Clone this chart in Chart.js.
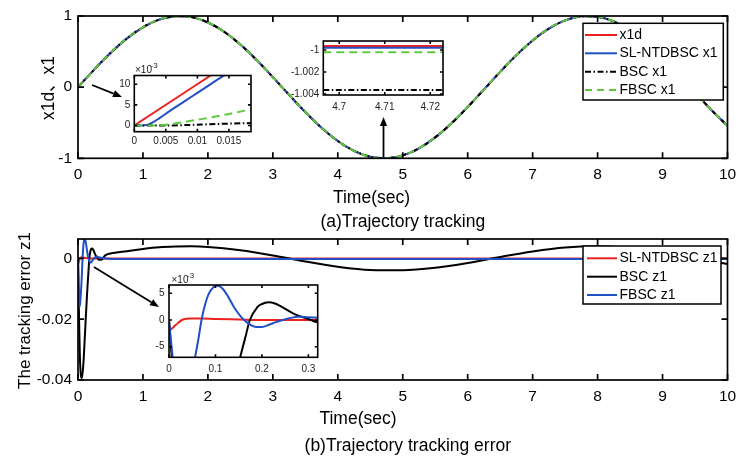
<!DOCTYPE html>
<html>
<head>
<meta charset="utf-8">
<script src="https://cdn.jsdelivr.net/npm/chart.js@4.4.1/dist/chart.umd.min.js"></script>
<style>
  html, body { margin: 0; padding: 0; background: #fff; }
  #wrap { position: relative; width: 738px; height: 456px; background: #fff; overflow: hidden; }
  #wrap canvas { position: absolute; left: 0; top: 0; }
</style>
</head>
<body>
<div id="wrap">
  <canvas id="trackMain" width="738" height="456"></canvas>
  <canvas id="errMain" width="738" height="456"></canvas>
  <canvas id="trackZoomStart" width="738" height="456"></canvas>
  <canvas id="trackZoomMin" width="738" height="456"></canvas>
  <canvas id="errZoom" width="738" height="456"></canvas>
</div>
<script>
const FONT = '"Liberation Sans", Arial, "Noto Sans CJK SC", sans-serif';

// ---- (a) trajectory tracking, full run ----
const trackTime = [0, 0.25, 0.5, 0.75, 1, 1.25, 1.5, 1.75, 2, 2.25, 2.5, 2.75, 3, 3.25, 3.5, 3.75,
  4, 4.25, 4.5, 4.75, 5, 5.25, 5.5, 5.75, 6, 6.25, 6.5, 6.75, 7, 7.25, 7.5, 7.75,
  8, 8.25, 8.5, 8.75, 9, 9.25, 9.5, 9.75, 10];
const x1dTrack = [0, 0.247, 0.479, 0.682, 0.841, 0.949, 0.997, 0.984, 0.909, 0.778, 0.598, 0.382,
  0.141, -0.108, -0.351, -0.572, -0.757, -0.895, -0.978, -0.999, -0.959, -0.859, -0.706, -0.508,
  -0.279, -0.033, 0.215, 0.450, 0.657, 0.823, 0.938, 0.995, 0.989, 0.923, 0.798, 0.624, 0.412,
  0.174, -0.075, -0.319, -0.544];
// the three controllers sit on the reference at this scale
const slTrack = x1dTrack;
const bscTrack = x1dTrack;
const fbscTrack = x1dTrack;

// zoom on the first 0.0185 s
const x1dStartT = [0, 0.0185];
const x1dStart = [0, 0.0185];
const slStartT = [0, 0.001, 0.002, 0.003, 0.004, 0.006, 0.008, 0.010, 0.012, 0.014, 0.0185];
const slStart = [0, 0.00002, 0.00015, 0.0008, 0.0018, 0.0039, 0.0059, 0.0079, 0.0099, 0.0119, 0.0164];
const bscStartT = [0, 0.005, 0.008, 0.012, 0.015, 0.0185];
const bscStart = [0, 0, 0.0001, 0.0003, 0.00045, 0.0006];
const fbscStartT = [0, 0.003, 0.005, 0.007, 0.010, 0.012, 0.015, 0.0185];
const fbscStart = [0, 0, 0.0002, 0.0006, 0.0014, 0.0019, 0.0028, 0.0039];

// zoom around the minimum at t = 4.71 s
const minT = [4.6965, 4.7228];
const x1dMin = [-0.99964, -0.99964];
const slMin = [-0.99979, -0.99979];
const bscMin = [-1.00364, -1.00364];
const fbscMin = [-1.00021, -1.00021];

// ---- (b) tracking error z1 ----
const slErrT = [0, 0.01, 0.02, 0.03, 0.045, 0.07, 0.1, 0.15, 0.2, 10];
const slErr = [-0.0021, -0.0013, -0.0005, 0.0001, 0.0003, 0.0003, 0.0002, 0.0001, 0, 0];
const bscErrT = [0, 0.01, 0.02, 0.03, 0.045, 0.06, 0.08, 0.1, 0.12, 0.14, 0.153, 0.165, 0.174,
  0.19, 0.2, 0.214, 0.228, 0.24, 0.27, 0.3, 0.32, 0.36, 0.42, 0.5, 0.75, 1, 1.25, 1.5, 1.75, 2,
  2.5, 3, 3.5, 4, 4.5, 5, 5.5, 6, 6.5, 7, 7.5, 8, 8.5, 9, 9.5, 10];
const bscErr = [0, -0.012, -0.024, -0.033, -0.0385, -0.0394, -0.0355, -0.028, -0.0195, -0.0115,
  -0.007, -0.003, 0, 0.0024, 0.003, 0.0033, 0.0031, 0.0026, 0.0011, 0.0002, -0.0004, -0.0004,
  0.0010, 0.0016, 0.0024, 0.0031, 0.00365, 0.0039, 0.004, 0.0038, 0.0027, 0.001, -0.001,
  -0.00275, -0.0038, -0.0039, -0.0031, -0.0015, 0.0005, 0.0023, 0.0036, 0.004, 0.0034, 0.002,
  0.0001, -0.0018];
const fbscErrT = [0, 0.005, 0.01, 0.015, 0.02, 0.025, 0.03, 0.04, 0.05, 0.056, 0.063, 0.07, 0.078,
  0.085, 0.095, 0.105, 0.115, 0.125, 0.14, 0.155, 0.167, 0.177, 0.187, 0.2, 0.215, 0.23, 0.245,
  0.262, 0.28, 0.3, 0.32, 0.36, 0.42, 0.6, 10];
const fbscErr = [0, -0.0045, -0.0088, -0.0128, -0.0153, -0.0158, -0.0152, -0.0128, -0.0094, -0.007,
  -0.0037, 0, 0.0030, 0.0048, 0.0061, 0.0064, 0.0059, 0.0047, 0.0024, 0.0006, -0.0004, -0.001,
  -0.0013, -0.0013, -0.0009, -0.0004, 0, 0.0004, 0.0006, 0.0005, 0.0004, 0.0002, 0, -0.0002, -0.0002];

// tick values
const timeTicks = [0, 1, 2, 3, 4, 5, 6, 7, 8, 9, 10];
const trackTicksY = [-1, 0, 1];
const errTicksY = [-0.04, -0.02, 0];
const startTicksX = [0, 0.005, 0.01, 0.015];
const startTicksY = [0, 0.005, 0.01];
const minTicksX = [4.7, 4.71, 4.72];
const minTicksY = [-1.004, -1.002, -1];
const errZoomTicksX = [0, 0.1, 0.2, 0.3];
const errZoomTicksY = [-0.005, 0, 0.005];

const RED = '#ec2220', BLUE = '#2150c4', BLACK = '#000', GREEN = '#5ec93e';
const DASH_DOT = [6, 2.5, 1.5, 2.5], DASHED = [8, 5];
const W = 738, H = 456;

const plain = v => String(+(+v).toFixed(4));
const milli = v => String(Math.round(v * 1000));

function line(label, xs, ys, color, dash, order, smooth) {
  return {
    label, data: xs.map((x, i) => ({ x, y: ys[i] })),
    borderColor: color, borderWidth: 2, borderDash: dash || [],
    pointRadius: 0, fill: false, order,
    cubicInterpolationMode: smooth ? 'default' : 'monotone', tension: smooth ? 0.4 : 0
  };
}

// the scale box fills the whole margin so its labels are not clipped away
function axis(min, max, ticks, fmt, size, pad, color, room) {
  return {
    type: 'linear', min, max,
    grid: { display: false, drawTicks: false },
    border: { display: false },
    ticks: { autoSkip: false, maxRotation: 0, padding: pad, color, font: { family: FONT, size }, callback: fmt },
    afterBuildTicks: s => { s.ticks = ticks.map(v => ({ value: v })); },
    afterFit: s => {
      if (s.isHorizontal()) s.height = room; else s.width = room;
      s.paddingLeft = s.paddingRight = s.paddingTop = s.paddingBottom = 0;
    }
  };
}

// box round the axes with inward ticks on all four sides
function frame(tickLen, lineW, whiteBg) {
  return {
    id: 'frame',
    beforeDatasetsDraw(chart) {
      if (!whiteBg) return;
      const a = chart.chartArea, ctx = chart.ctx;
      ctx.save(); ctx.fillStyle = '#fff';
      ctx.fillRect(a.left, a.top, a.width, a.height); ctx.restore();
    },
    afterDatasetsDraw(chart) {
      const { ctx, chartArea: a, scales } = chart;
      ctx.save();
      ctx.strokeStyle = '#000'; ctx.lineWidth = lineW;
      ctx.beginPath();
      scales.x.ticks.forEach(t => {
        const p = scales.x.getPixelForValue(t.value);
        ctx.moveTo(p, a.bottom); ctx.lineTo(p, a.bottom - tickLen);
        ctx.moveTo(p, a.top); ctx.lineTo(p, a.top + tickLen);
      });
      scales.y.ticks.forEach(t => {
        const p = scales.y.getPixelForValue(t.value);
        ctx.moveTo(a.left, p); ctx.lineTo(a.left + tickLen, p);
        ctx.moveTo(a.right, p); ctx.lineTo(a.right - tickLen, p);
      });
      ctx.stroke();
      ctx.strokeRect(a.left, a.top, a.width, a.height);
      ctx.restore();
    }
  };
}

function boxLegend(box, rows, lineX, textX) {
  return {
    id: 'boxLegend',
    afterDatasetsDraw(chart) {
      const ctx = chart.ctx;
      ctx.save();
      ctx.fillStyle = '#fff';
      ctx.fillRect(box[0], box[1], box[2] - box[0], box[3] - box[1]);
      ctx.strokeStyle = '#000'; ctx.lineWidth = 1.5;
      ctx.strokeRect(box[0], box[1], box[2] - box[0], box[3] - box[1]);
      ctx.font = '14px ' + FONT; ctx.textBaseline = 'middle'; ctx.textAlign = 'left';
      chart.data.datasets.forEach((ds, i) => {
        const y = rows[i];
        ctx.strokeStyle = ds.borderColor; ctx.lineWidth = 2;
        ctx.setLineDash(ds.borderDash || []);
        ctx.beginPath(); ctx.moveTo(lineX[0], y); ctx.lineTo(lineX[1], y); ctx.stroke();
        ctx.setLineDash([]);
        ctx.fillStyle = '#000';
        ctx.fillText(ds.label, textX, y);
      });
      ctx.restore();
    }
  };
}

// captions, axis titles and pointer arrows
function notes(texts, arrows) {
  return {
    id: 'notes',
    afterDraw(chart) {
      const ctx = chart.ctx;
      ctx.save();
      texts.forEach(t => {
        ctx.save();
        ctx.font = t.size + 'px ' + FONT;
        ctx.fillStyle = t.color || '#000';
        ctx.textAlign = t.align || 'center';
        ctx.textBaseline = 'alphabetic';
        ctx.translate(t.x, t.y);
        if (t.rot) ctx.rotate(t.rot);
        ctx.fillText(t.text, 0, 0);
        ctx.restore();
      });
      arrows.forEach(([x1, y1, x2, y2]) => {
        const ang = Math.atan2(y2 - y1, x2 - x1), L = 9, hw = 3.6;
        const bx = x2 - L * Math.cos(ang), by = y2 - L * Math.sin(ang);
        ctx.strokeStyle = '#000'; ctx.fillStyle = '#000'; ctx.lineWidth = 1.8;
        ctx.beginPath(); ctx.moveTo(x1, y1); ctx.lineTo(bx, by); ctx.stroke();
        ctx.beginPath();
        ctx.moveTo(x2, y2);
        ctx.lineTo(bx + hw * Math.sin(ang), by - hw * Math.cos(ang));
        ctx.lineTo(bx - hw * Math.sin(ang), by + hw * Math.cos(ang));
        ctx.closePath(); ctx.fill();
      });
      ctx.restore();
    }
  };
}

// box = [left, top, right, bottom] of the plotting area in page pixels
function axesChart(id, box, datasets, xr, yr, extra) {
  return new Chart(document.getElementById(id), {
    type: 'line',
    data: { datasets },
    options: {
      responsive: false, animation: false, devicePixelRatio: 1,
      layout: { padding: { left: 0, top: box[1], right: W - box[2], bottom: 0 } },
      plugins: { legend: { display: false }, tooltip: { enabled: false } },
      scales: {
        x: axis(...xr, H - box[3]),
        y: axis(...yr, box[0])
      }
    },
    plugins: extra
  });
}

// (a) main axes
axesChart('trackMain', [78, 16, 727.5, 158.3], [
  line('x1d', trackTime, x1dTrack, RED, null, 3, true),
  line('SL-NTDBSC x1', trackTime, slTrack, BLUE, null, 2, true),
  line('BSC x1', trackTime, bscTrack, BLACK, DASH_DOT, 1, true),
  line('FBSC x1', trackTime, fbscTrack, GREEN, [7, 5], 0, true)
],
  [0, 10, timeTicks, plain, 15.5, 7, '#000'],
  [-1, 1, trackTicksY, plain, 15.5, 6, '#000'],
  [frame(6, 1.7, false), boxLegend([583, 23.3, 723.3, 100], [35, 53.3, 71.7, 90], [585, 617], 619.5),
   notes([
     { text: 'Time(sec)', x: 371.5, y: 203.3, size: 17.5 },
     { text: '(a)Trajectory tracking', x: 402.8, y: 226.7, size: 17.5 },
     { text: 'x1d\u3001x1', x: 53.5, y: 88, size: 17.5, rot: -Math.PI / 2 }
   ], [[92, 85, 122, 97], [383.5, 157, 383.5, 117]])]);

// (b) main axes
axesChart('errMain', [78, 239, 727.5, 380], [
  line('SL-NTDBSC z1', slErrT, slErr, RED, null, 2),
  line('BSC z1', bscErrT, bscErr, BLACK, null, 1),
  line('FBSC z1', fbscErrT, fbscErr, BLUE, null, 0)
],
  [0, 10, timeTicks, plain, 15.5, 7, '#000'],
  [-0.04, 0.0064, errTicksY, plain, 15.5, 6, '#000'],
  [frame(6, 1.7, false), boxLegend([583, 246, 721, 304], [258.3, 276.7, 295], [587, 617], 619.5),
   notes([
     { text: 'Time(sec)', x: 358, y: 423.7, size: 17.5 },
     { text: '(b)Trajectory tracking error', x: 407.8, y: 451, size: 17.5 },
     { text: 'The tracking error z1', x: 29.5, y: 310.5, size: 17, rot: -Math.PI / 2 }
   ], [[94, 267, 159, 307]])]);

// zoom: start of (a)
axesChart('trackZoomStart', [134.3, 75.5, 251, 131.7], [
  line('x1d', x1dStartT, x1dStart, RED, null, 3),
  line('SL-NTDBSC x1', slStartT, slStart, BLUE, null, 2),
  line('BSC x1', bscStartT, bscStart, BLACK, DASH_DOT, 1),
  line('FBSC x1', fbscStartT, fbscStart, GREEN, DASHED, 0)
],
  [0, 0.0185, startTicksX, plain, 10, 4, '#222'],
  [-0.0015, 0.0121, startTicksY, milli, 10, 4, '#222'],
  [frame(3, 1.6, true), notes([
    { text: '\u00d710', x: 135, y: 72.5, size: 10, align: 'left', color: '#222' },
    { text: '-3', x: 150.5, y: 67.5, size: 8, align: 'left', color: '#222' }
  ], [])]);

// zoom: minimum of (a)
axesChart('trackZoomMin', [323.3, 41, 443, 95], [
  line('x1d', minT, x1dMin, RED, null, 3),
  line('SL-NTDBSC x1', minT, slMin, BLUE, null, 2),
  line('BSC x1', minT, bscMin, BLACK, DASH_DOT, 1),
  line('FBSC x1', minT, fbscMin, GREEN, DASHED, 0)
],
  [4.6965, 4.7228, minTicksX, plain, 10, 6, '#222'],
  [-1.00409, -0.99918, minTicksY, plain, 10, 4, '#222'],
  [frame(3, 1.6, true)]);

// zoom: start of (b)
axesChart('errZoom', [169, 285, 317.7, 357.3], [
  line('SL-NTDBSC z1', slErrT, slErr, RED, null, 2),
  line('BSC z1', bscErrT, bscErr, BLACK, null, 1),
  line('FBSC z1', fbscErrT, fbscErr, BLUE, null, 0)
],
  [0, 0.32, errZoomTicksX, plain, 10, 5.5, '#222'],
  [-0.00698, 0.00655, errZoomTicksY, milli, 10, 4.5, '#222'],
  [frame(3, 1.6, true), notes([
    { text: '\u00d710', x: 171.5, y: 282.5, size: 10, align: 'left', color: '#222' },
    { text: '-3', x: 187, y: 277.5, size: 8, align: 'left', color: '#222' }
  ], [])]);
</script>
</body>
</html>
